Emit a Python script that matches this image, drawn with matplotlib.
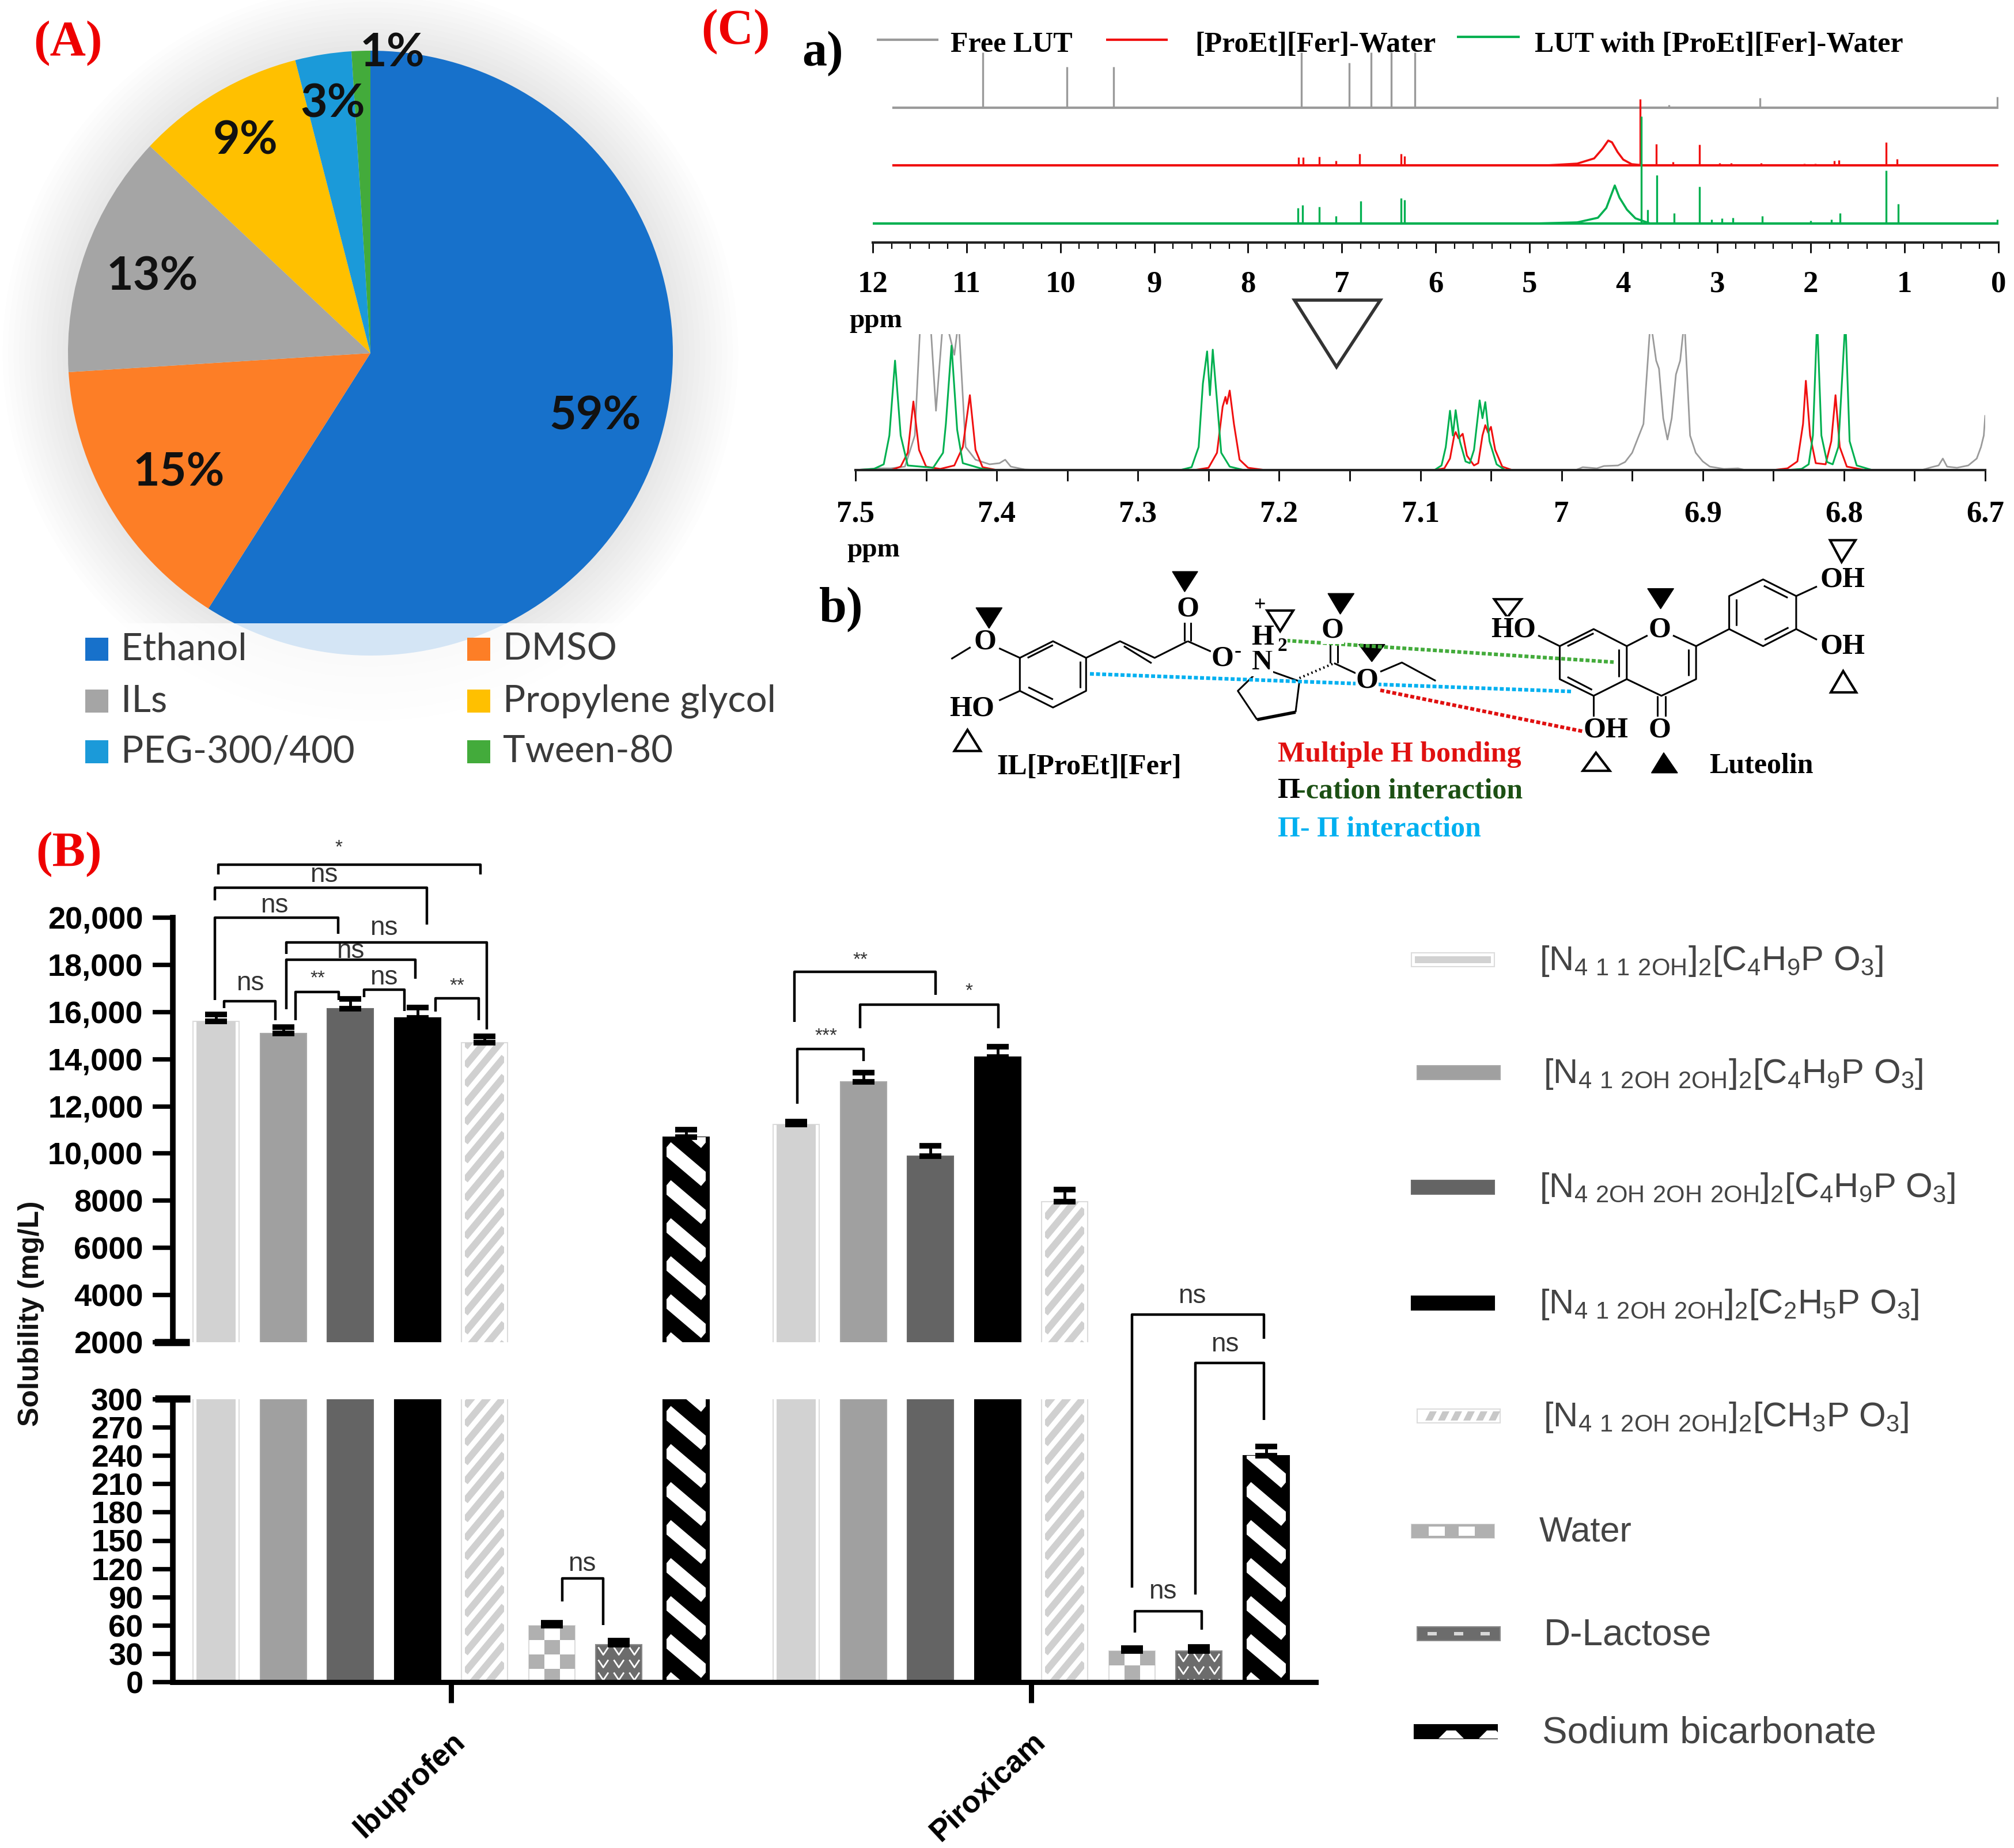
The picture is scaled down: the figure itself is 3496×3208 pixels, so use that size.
import matplotlib
matplotlib.use('Agg')  # no display

import matplotlib.pyplot as plt
import numpy as np
from matplotlib.lines import Line2D
from matplotlib.patches import Circle, Polygon, Rectangle
from matplotlib.transforms import Bbox, IdentityTransform

plt.rcParams['mathtext.default'] = 'regular'

W, H = 3496, 3208
SANS = 'Liberation Sans'
SERIF = 'Liberation Serif'

# --- panel A ---
solvents = ['Ethanol', 'DMSO', 'ILs', 'Propylene glycol', 'PEG-300/400', 'Tween-80']
solvent_pct = [59, 15, 13, 9, 3, 1]
solvent_colors = ['#1771cb', '#fd7e26', '#a5a5a5', '#ffc000', '#1b9ad9', '#43ab3b']

# --- panel B ---
drugs = ['Ibuprofen', 'Piroxicam']
ibuprofen_sol = [15600, 15100, 16150, 15750, 14700, 60, 40, 10700]
ibuprofen_err = [300, 250, 400, 450, 260, 3, 4, 320]
piroxicam_sol = [11230, 13050, 9900, 14100, 7950, 33, 33, 240]
piroxicam_err = [120, 390, 440, 440, 510, 3, 4, 10]
upper_ticks = [2000, 4000, 6000, 8000, 10000, 12000, 14000, 16000, 18000, 20000]
upper_labels = ['2000', '4000', '6000', '8000', '10,000', '12,000', '14,000', '16,000', '18,000', '20,000']
lower_ticks = [0, 30, 60, 90, 120, 150, 180, 210, 240, 270, 300]
bar_names = [
    r'[N$_{4\ 1\ 1\ 2OH}$]$_2$[C$_4$H$_9$P O$_3$]',
    r'[N$_{4\ 1\ 2OH\ 2OH}$]$_2$[C$_4$H$_9$P O$_3$]',
    r'[N$_{4\ 2OH\ 2OH\ 2OH}$]$_2$[C$_4$H$_9$P O$_3$]',
    r'[N$_{4\ 1\ 2OH\ 2OH}$]$_2$[C$_2$H$_5$P O$_3$]',
    r'[N$_{4\ 1\ 2OH\ 2OH}$]$_2$[CH$_3$P O$_3$]',
    'Water', 'D-Lactose', 'Sodium bicarbonate',
]
bar_name_sizes = [43, 43, 43, 43, 43, 44, 46, 47]

# --- panel C, full range spectra (ppm, height) ---
lut_ppm = [10.83, 9.93, 9.43, 7.43, 6.92, 6.69, 6.47, 6.22, 3.51, 2.54, 0.01]
lut_int = [96, 71, 71, 96, 78, 96, 96, 96, 5, 17, 19]
il_ppm = [7.46, 7.41, 7.24, 7.06, 6.81, 6.37, 6.33, 3.82, 3.65, 3.47, 3.19, 2.97, 2.85, 2.53, 2.07, 1.95, 1.75, 1.70, 1.20, 1.08]
il_int = [14, 14, 15, 8, 20, 20, 16, 115, 37, 6, 36, 4, 4, 4, 3, 3, 8, 9, 40, 11]
il_hump_ppm = [4.81, 4.49, 4.31, 4.22, 4.16, 4.12, 4.06, 4.00, 3.91, 3.78]
il_hump_int = [0, 3, 12, 29, 43, 40, 23, 10, 2, 0]
mix_ppm = [7.47, 7.42, 7.24, 7.06, 6.80, 6.37, 6.33, 3.81, 3.74, 3.64, 3.46, 3.19, 3.06, 2.95, 2.83, 2.52, 2.00, 1.78, 1.69, 1.20, 1.07, 0.01]
mix_int = [27, 32, 29, 13, 39, 44, 41, 186, 24, 84, 18, 64, 7, 9, 10, 13, 5, 7, 18, 92, 34, 7]
mix_hump_ppm = [4.94, 4.49, 4.27, 4.18, 4.09, 4.04, 3.96, 3.87, 3.73]
mix_hump_int = [0, 2, 10, 27, 66, 45, 24, 9, 1]

# --- panel C, aromatic region ---
zoom_lut_ppm = [7.50, 7.485, 7.475, 7.465, 7.458, 7.454, 7.450, 7.447, 7.443, 7.438, 7.436, 7.430, 7.427, 7.422, 7.415,
                7.405, 7.398, 7.394, 7.39, 7.38, 7.37, 6.99, 6.985, 6.975, 6.97, 6.96, 6.955, 6.95, 6.942, 6.937, 6.933,
                6.931, 6.928, 6.925, 6.922, 6.919, 6.916, 6.913, 6.909, 6.905, 6.90, 6.895, 6.885, 6.875, 6.87, 6.745,
                6.738, 6.733, 6.730, 6.727, 6.72, 6.712, 6.706, 6.703, 6.701, 6.70]
zoom_lut_int = [0, 3, 3, 6, 60, 260, 240, 260, 103, 260, 260, 200, 260, 40, 18,
                10, 12, 18, 6, 1, 0, 0, 5, 3, 7, 8, 14, 30, 80, 260, 190,
                176, 90, 53, 90, 166, 190, 260, 60, 30, 15, 6, 2, 3, 0, 0,
                5, 8, 20, 6, 4, 8, 20, 40, 60, 94]
zoom_il_ppm = [7.50, 7.475, 7.468, 7.463, 7.459, 7.455, 7.45, 7.44, 7.43, 7.424, 7.419, 7.415, 7.41, 7.40, 7.26, 7.25,
               7.244, 7.240, 7.238, 7.237, 7.235, 7.232, 7.228, 7.222, 7.21, 7.09, 7.083, 7.079, 7.076, 7.075, 7.073,
               7.070, 7.067, 7.062, 7.059, 7.056, 7.054, 7.052, 7.050, 7.047, 7.042, 7.035, 6.85, 6.84, 6.833, 6.829,
               6.827, 6.824, 6.82, 6.813, 6.809, 6.806, 6.803, 6.798, 6.785, 6.70]
zoom_il_int = [0, 0, 6, 30, 119, 35, 6, 2, 8, 40, 130, 35, 5, 0, 0, 4,
               30, 110, 127, 115, 138, 80, 18, 4, 0, 0, 3, 20, 60, 66, 55,
               63, 25, 8, 12, 60, 78, 65, 75, 35, 6, 0, 0, 3, 15, 80,
               155, 60, 12, 10, 50, 130, 40, 6, 0, 0]
zoom_mix_ppm = [7.50, 7.487, 7.480, 7.476, 7.472, 7.468, 7.463, 7.445, 7.438, 7.436, 7.432, 7.428, 7.424, 7.41, 7.40,
                7.27, 7.262, 7.257, 7.254, 7.251, 7.249, 7.247, 7.244, 7.241, 7.235, 7.225, 7.09, 7.085, 7.082, 7.079,
                7.077, 7.075, 7.072, 7.068, 7.065, 7.062, 7.058, 7.056, 7.054, 7.051, 7.046, 7.04, 6.84, 6.83, 6.825,
                6.822, 6.819, 6.816, 6.812, 6.808, 6.804, 6.799, 6.796, 6.791, 6.78, 6.70]
zoom_mix_int = [0, 2, 10, 60, 190, 60, 8, 4, 30, 80, 216, 70, 12, 2, 0,
                0, 5, 40, 150, 206, 130, 209, 120, 30, 6, 0, 0, 8, 40, 103,
                60, 104, 50, 15, 12, 35, 121, 90, 118, 50, 10, 0, 0, 2, 10,
                60, 262, 60, 14, 10, 40, 262, 50, 8, 0, 0]

GRAY, RED, GREEN = '#9a9a9a', '#f01010', '#00b050'


def px_axes(x0, y0, x1, y1):
    return fig.add_axes([x0 / W, 1 - y1 / H, (x1 - x0) / W, (y1 - y0) / H])


fig = plt.figure(figsize=(W / 100, H / 100), dpi=100, facecolor='white')

# overlay in image pixels, for labels, brackets and the structure sketch
ov = fig.add_axes([0, 0, 1, 1], zorder=10)
ov.set_xlim(0, W)
ov.set_ylim(H, 0)
ov.axis('off')


def txt(x, y, s, size, family=SANS, weight='normal', color='black', ha='center', **kw):
    ov.text(x, y, s, fontsize=size, family=family, weight=weight, color=color, ha=ha, va='center', **kw)


def seg(xs, ys, lw=2.0, color='black', **kw):
    ov.plot(xs, ys, color=color, lw=lw, solid_capstyle='butt', **kw)


# ---------- (A) pie ----------
ax = px_axes(118, 88, 1168, 1138)
ax.set_zorder(1)
for i in range(12):
    ax.add_patch(Circle((0, 0), 1 + (i + 1) * 0.018, color='black', alpha=0.008, lw=0, clip_on=False, zorder=0))
ax.pie(solvent_pct, colors=solvent_colors, startangle=90, counterclock=False, radius=1,
       wedgeprops={'linewidth': 0, 'zorder': 1})
ax.set_xlim(-1, 1)
ax.set_ylim(-1, 1)

ov.add_patch(Rectangle((75, 1082), 1325, 275, facecolor='white', alpha=0.82, lw=0))

pct_pos = [(1033, 722), (310, 820), (264, 481), (426, 245), (578, 180), (681, 92)]
for (x, y), p in zip(pct_pos, solvent_pct):
    txt(x, y, f'{p}%', 58, family='Lato', weight='bold', color='#111111')

legend_pos = [(148, 1127), (811, 1127), (148, 1217), (811, 1217), (148, 1305), (811, 1305)]
for (x, y), name, c in zip(legend_pos, solvents, solvent_colors):
    ov.add_patch(Rectangle((x, y - 20), 40, 40, facecolor=c, lw=0))
    txt(x + 62, y, name, 47, family='Lato', color='#3a3a3a', ha='left')

txt(118, 75, '(A)', 62, family=SERIF, weight='bold', color='#ee0000')
txt(120, 1483, '(B)', 62, family=SERIF, weight='bold', color='#ee0000')
txt(1277, 55, '(C)', 62, family=SERIF, weight='bold', color='#ee0000')

# ---------- (B) bars with a broken axis ----------
GROUP_X = [0, 1]
STEP = 0.1157
BAR_W = 0.0795
xlim_b = (-0.4796, 1.4906)
ax_up = px_axes(300, 1593, 2284, 2330)
ax_lo = px_axes(300, 2429, 2284, 2920)
ax_up.set_ylim(2000, 20000)
ax_lo.set_ylim(0, 300)
for a in (ax_up, ax_lo):
    a.set_xlim(*xlim_b)
    a.patch.set_visible(False)
    for s in ('top', 'right'):
        a.spines[s].set_visible(False)
    a.spines['left'].set_linewidth(7)
    a.tick_params(axis='y', length=25, width=5.5, pad=12, labelsize=39)
ax_up.spines['bottom'].set_visible(False)
ax_up.set_xticks([])
ax_up.set_yticks(upper_ticks)
ax_up.set_yticklabels(upper_labels, family=SANS, weight='bold')
ax_lo.set_yticks(lower_ticks)
ax_lo.set_yticklabels([str(t) for t in lower_ticks], family=SANS, weight='bold')
ax_lo.spines['bottom'].set_linewidth(6.5)
ax_lo.set_xticks(GROUP_X)
ax_lo.set_xticklabels(drugs, family=SANS, weight='bold', fontsize=38, rotation=43, ha='right',
                      rotation_mode='anchor')
ax_lo.tick_params(axis='x', length=26, width=6.5, pad=30)

bar_faces = ['white', '#a0a0a0', '#646464', 'black', 'white', 'white', '#6c6c6c', 'black']
bar_edges = ['#dcdcdc', '#a8a8a8', '#6a6a6a', 'black', '#dcdcdc', '#dcdcdc', '#8a8a8a', 'black']


def clip_rect(a, bar, inset=0):
    bb = Bbox.intersection(bar.get_window_extent(), a.bbox)
    if bb is None or bb.height < 1:
        return None
    return Rectangle((bb.x0 + inset, bb.y0), bb.width - 2 * inset, bb.height, transform=IdentityTransform())


def add_clipped(a, artist, rect):
    a.add_artist(artist)
    artist.set_clip_path(rect)


def stripes(a, rect, step, slope, lw_px, color):
    x0, y0 = rect.get_x(), rect.get_y()
    x1, y1 = x0 + rect.get_width(), y0 + rect.get_height()
    span = abs(slope) * (x1 - x0)
    for c in np.arange(y0 - span - step, y1 + span + step, step):
        ln = Line2D([x0, x1], [c, c + slope * (x1 - x0)], color=color, lw=lw_px * 0.72,
                    transform=IdentityTransform(), solid_capstyle='butt', zorder=2)
        add_clipped(a, ln, rect)


def texture(a, bar, kind):
    # fill pattern of one bar, the clip keeps it inside the visible part of the bar
    if kind == 0:
        rect = clip_rect(a, bar, 6)
        if rect is not None:
            add_clipped(a, Rectangle((rect.get_x(), rect.get_y()), rect.get_width(), rect.get_height(),
                                     facecolor='#d2d2d2', lw=0, transform=IdentityTransform(), zorder=2), rect)
    elif kind == 4:
        rect = clip_rect(a, bar, 6)
        if rect is not None:
            stripes(a, rect, 33, 1.2, 12, '#d0d0d0')
    elif kind == 5:
        rect = clip_rect(a, bar)
        if rect is not None:
            x0, top = rect.get_x(), rect.get_y() + rect.get_height()
            for r in range(int(rect.get_height() // 25) + 1):
                for col in range(3):
                    if (r + col) % 2 == 0:
                        add_clipped(a, Rectangle((x0 + col * 27, top - (r + 1) * 25), 27, 25, facecolor='#b0b0b0',
                                                 lw=0, transform=IdentityTransform(), zorder=2), rect)
    elif kind == 6:
        rect = clip_rect(a, bar)
        if rect is not None:
            x0, top = rect.get_x(), rect.get_y() + rect.get_height()
            for r in range(int(rect.get_height() // 22) + 1):
                for col in range(3):
                    cx, cy = x0 + 13 + col * 27, top - 12 - r * 22
                    add_clipped(a, Line2D([cx - 8, cx, cx + 8], [cy + 6, cy - 6, cy + 6], color='white', lw=2,
                                          transform=IdentityTransform(), zorder=2), rect)
    elif kind == 7:
        rect = clip_rect(a, bar, 6)
        if rect is not None:
            stripes(a, rect, 66, -0.85, 24, 'white')


fig.canvas.draw()
for g, vals, errs in zip(GROUP_X, (ibuprofen_sol, piroxicam_sol), (ibuprofen_err, piroxicam_err)):
    xs = g + (np.arange(8) - 3.5) * STEP
    for a in (ax_up, ax_lo):
        bars = a.bar(xs, vals, width=BAR_W, color=bar_faces, edgecolor=bar_edges, linewidth=1.5, zorder=1)
        for k, b in enumerate(bars):
            texture(a, b, k)
        a.errorbar(xs, vals, yerr=[np.zeros(8), errs], fmt='none', ecolor='black', elinewidth=3.5,
                   capsize=14, capthick=7, zorder=5)

# break marks on the y axis
seg([268, 329], [2330, 2330], lw=9)
seg([269, 330], [2428, 2428], lw=9)
txt(54, 2280, 'Solubility (mg/L)', 36, weight='bold', rotation=90, color='#111111')

# significance brackets: x left, x right, top, bottom left, bottom right, label, label x, label y
brackets = [
    (379, 834, 1501, 1518, 1518, '*', 588, 1472),
    (373, 741, 1541, 1563, 1605, 'ns', 562, 1519),
    (373, 587, 1593, 1736, 1621, 'ns', 476, 1572),
    (497, 845, 1636, 1656, 1787, 'ns', 666, 1611),
    (497, 721, 1666, 1752, 1699, 'ns', 608, 1651),
    (389, 478, 1738, 1750, 1771, 'ns', 434, 1707),
    (513, 588, 1722, 1771, 1736, '**', 551, 1699),
    (632, 702, 1718, 1731, 1755, 'ns', 666, 1697),
    (756, 831, 1733, 1756, 1771, '**', 793, 1712),
    (976, 1047, 2740, 2780, 2821, 'ns', 1010, 2715),
    (1379, 1624, 1687, 1774, 1727, '**', 1493, 1667),
    (1493, 1733, 1744, 1785, 1785, '*', 1682, 1721),
    (1384, 1499, 1821, 1916, 1842, '***', 1434, 1799),
    (1965, 2194, 2282, 2756, 2324, 'ns', 2069, 2250),
    (2075, 2194, 2366, 2768, 2465, 'ns', 2126, 2334),
    (1970, 2086, 2797, 2834, 2829, 'ns', 2018, 2763),
]
for xl, xr, top, bl, br, lab, lx, ly in brackets:
    seg([xl, xl, xr, xr], [bl, top, top, br], lw=3.2)
    txt(lx, ly, lab, 33 if lab == 'ns' else 24, color='#333333')

# legend of the bars
swatch_x = [2450, 2460, 2450, 2450, 2460, 2450, 2460, 2455]
swatch_y = [1666, 1862, 2061, 2262, 2458, 2658, 2836, 3006]
label_x = [2672, 2679, 2672, 2672, 2679, 2672, 2680, 2677]
for k, (sx, sy, lx, name) in enumerate(zip(swatch_x, swatch_y, label_x, bar_names)):
    ov.add_patch(Rectangle((sx, sy - 12), 144, 24, facecolor=bar_faces[k], edgecolor=bar_edges[k], lw=1.5))
    if k == 0:
        ov.add_patch(Rectangle((sx + 6, sy - 6), 132, 12, facecolor='#d2d2d2', lw=0))
    if k == 4:
        for j in range(6):
            ov.add_patch(Polygon([(sx + 14 + j * 22, sy + 8), (sx + 26 + j * 22, sy + 8),
                                  (sx + 34 + j * 22, sy - 8), (sx + 22 + j * 22, sy - 8)],
                                 facecolor='#c8c8c8', lw=0))
    if k == 5:
        ov.add_patch(Rectangle((sx, sy - 12), 144, 24, facecolor='#b0b0b0', lw=0))
        for j in (0, 1):
            ov.add_patch(Rectangle((sx + 30 + j * 52, sy - 8), 28, 16, facecolor='white', lw=0))
    if k == 6:
        for j in range(3):
            ov.add_patch(Rectangle((sx + 18 + j * 46, sy - 3), 16, 6, facecolor='#d8d8d8', lw=0))
    if k == 7:
        for j in (0, 1):
            ov.add_patch(Polygon([(sx + 42 + j * 70, sy + 12), (sx + 56 + j * 70, sy - 2), (sx + 72 + j * 70, sy - 2),
                                  (sx + 86 + j * 70, sy + 12)], facecolor='white', lw=0))
    txt(lx, sy + 2, name, bar_name_sizes[k], color='#444444', ha='left')

# ---------- (C) a) spectra ----------
txt(1428, 93, 'a)', 62, family=SERIF, weight='bold')
seg([1522, 1629], [69, 69], lw=3, color=GRAY)
txt(1650, 78, 'Free LUT', 36, family=SERIF, weight='bold', ha='left')
seg([1920, 2027], [69, 69], lw=3, color=RED)
txt(2074, 78, '[ProEt][Fer]-Water', 36, family=SERIF, weight='bold', ha='left')
seg([2529, 2638], [64, 64], lw=3, color=GREEN)
txt(2664, 78, 'LUT with [ProEt][Fer]-Water', 36, family=SERIF, weight='bold', ha='left')

ax_top = px_axes(1515, 90, 3469, 421)
ax_top.set_xlim(12, 0)
ax_top.set_ylim(0, 331)
ax_top.patch.set_visible(False)
OFF_LUT, OFF_IL, OFF_MIX = 234, 134, 33
ax_top.plot([11.78, 0], [OFF_LUT, OFF_LUT], color=GRAY, lw=3)
ax_top.vlines(lut_ppm, OFF_LUT, np.array(lut_int) + OFF_LUT, color=GRAY, lw=2.4)
ax_top.plot([11.78, 0], [OFF_IL, OFF_IL], color=RED, lw=3)
ax_top.plot(il_hump_ppm, np.array(il_hump_int) + OFF_IL, color=RED, lw=2.6)
ax_top.vlines(il_ppm, OFF_IL, np.array(il_int) + OFF_IL, color=RED, lw=2.4)
ax_top.plot([12, 0], [OFF_MIX, OFF_MIX], color=GREEN, lw=3)
ax_top.plot(mix_hump_ppm, np.array(mix_hump_int) + OFF_MIX, color=GREEN, lw=2.6)
ax_top.vlines(mix_ppm, OFF_MIX, np.array(mix_int) + OFF_MIX, color=GREEN, lw=2.4)

ax_zoom = px_axes(1485, 580, 3446, 816)
ax_zoom.set_xlim(7.5, 6.7)
ax_zoom.set_ylim(0, 236)
ax_zoom.patch.set_visible(False)
ax_zoom.plot(zoom_lut_ppm, zoom_lut_int, color=GRAY, lw=2)
ax_zoom.plot(zoom_il_ppm, zoom_il_int, color=RED, lw=2.2)
ax_zoom.plot(zoom_mix_ppm, zoom_mix_int, color=GREEN, lw=2.2)

ax_top.set_xticks(np.arange(0, 13))
ax_top.set_xticks(np.arange(0, 12.01, 0.2), minor=True)
ax_top.set_xticklabels([str(t) for t in range(13)], family=SERIF, weight='bold', fontsize=38)
ax_top.tick_params(axis='x', which='major', length=13, width=2, pad=22)
ax_top.tick_params(axis='x', which='minor', length=8, width=1.6)
zoom_ticks = [7.5, 7.4, 7.3, 7.2, 7.1, 7.0, 6.9, 6.8, 6.7]
ax_zoom.set_xticks(zoom_ticks)
ax_zoom.set_xticks(np.arange(6.75, 7.5, 0.1), minor=True)
ax_zoom.set_xticklabels(['7.5', '7.4', '7.3', '7.2', '7.1', '7', '6.9', '6.8', '6.7'],
                        family=SERIF, weight='bold', fontsize=38)
ax_zoom.tick_params(axis='x', which='major', length=14, width=2, pad=24)
ax_zoom.tick_params(axis='x', which='minor', length=14, width=2)
for a in (ax_top, ax_zoom):
    a.set_yticks([])
    for s in ('top', 'left', 'right'):
        a.spines[s].set_visible(False)
    a.spines['bottom'].set_linewidth(3)
    a.spines['bottom'].set_color('#222222')

txt(1520, 557, 'ppm', 34, family=SERIF, weight='bold')
txt(1516, 955, 'ppm', 34, family=SERIF, weight='bold')
ov.add_patch(Polygon([(2247, 521), (2396, 521), (2320, 637)], closed=True, fill=False, edgecolor='#333333', lw=4))

# ---------- (C) b) structures, sketched in a local frame ----------
txt(1460, 1058, 'b)', 62, family=SERIF, weight='bold')


def bx(x):
    return 1400 + x / 0.748


def by(y):
    return 920 + y / 2.703


def sk(pts, lw=2.2):
    seg([bx(p[0]) for p in pts], [by(p[1]) for p in pts], lw=lw)


def atom(x, y, s, size=36):
    ov.text(bx(x), by(y), s, fontsize=size, family=SERIF, weight='bold', ha='center', va='center',
            bbox=dict(facecolor='white', edgecolor='none', pad=0.5) if s != '-' and s != '+' else None)


bonds = [
    # ferulate
    [(188, 605), (213, 550)], [(250, 555), (277, 600)],
    [(277, 600), (320, 522), (363, 600), (363, 755), (320, 833), (277, 755), (277, 600)],
    [(287, 600), (320, 540)], [(355, 615), (355, 740)], [(288, 738), (320, 795)],
    [(363, 600), (407, 522), (452, 600), (495, 522)], [(412, 545), (448, 625)],
    [(491, 522), (491, 430)], [(499, 522), (499, 430)], [(495, 522), (525, 570)], [(250, 800), (277, 755)],
    # proline ester
    [(580, 685), (560, 755), (585, 890)], [(635, 855), (640, 710), (605, 665)],
    [(680, 535), (680, 625)], [(690, 535), (690, 625)], [(685, 625), (713, 672)],
    [(745, 665), (773, 622), (817, 708)],
    # luteolin
    [(950, 495), (978, 545)],
    [(978, 545), (1022, 465), (1065, 545), (1065, 700), (1022, 778), (978, 700), (978, 545)],
    [(988, 545), (1022, 485)], [(1055, 560), (1055, 690)], [(988, 690), (1020, 750)],
    [(1065, 545), (1092, 495)], [(1125, 495), (1155, 545), (1155, 700), (1110, 778), (1065, 700)],
    [(1145, 560), (1145, 685)], [(1105, 778), (1105, 885)], [(1115, 778), (1115, 885)], [(1022, 778), (1022, 885)],
    [(1155, 545), (1198, 465), (1198, 310), (1242, 232), (1285, 310), (1285, 465), (1242, 545), (1198, 465)],
    [(1207, 450), (1207, 325)], [(1243, 262), (1274, 318)], [(1275, 458), (1244, 515)],
    [(1285, 310), (1312, 265)], [(1285, 465), (1312, 515)],
]
for b in bonds:
    sk(b)
sk([(585, 890), (635, 855)], lw=4)
ov.plot([bx(640), bx(685)], [by(695), by(625)], color='black', lw=3, ls=(0, (0.6, 1.2)))

for x, y, s in [(232, 525, 'O'), (495, 372, 'O'), (540, 605, 'O'), (215, 838, 'HO'), (592, 622, 'N'), (592, 505, 'H'),
                (683, 472, 'O'), (728, 708, 'O'), (918, 470, 'HO'), (1108, 470, 'O'), (1038, 938, 'OH'),
                (1108, 938, 'O'), (1345, 235, 'OH'), (1345, 547, 'OH')]:
    atom(x, y, s)
atom(618, 545, '2', 24)
atom(560, 572, '-', 26)
atom(588, 355, '+', 26)

ov.plot([bx(615), bx(1048)], [by(517), by(620)], color='#43ab3b', lw=4.5, ls=(0, (1.1, 0.6)))
ov.plot([bx(368), bx(995)], [by(675), by(758)], color='#00b0f0', lw=4.5, ls=(0, (1.1, 0.6)))
ov.plot([bx(745), bx(1008)], [by(752), by(945)], color='#e01010', lw=4.5, ls=(0, (1.1, 0.6)))

tri_filled = [
    [(220, 365), (254, 365), (237, 462)], [(475, 195), (508, 195), (491, 290)], [(677, 298), (711, 298), (693, 395)],
    [(717, 537), (751, 537), (734, 618)], [(1092, 275), (1126, 275), (1109, 370)],
    [(1097, 1140), (1131, 1140), (1113, 1045)],
]
tri_open = [
    [(1329, 48), (1362, 48), (1344, 150)], [(893, 325), (928, 325), (910, 410)], [(598, 378), (632, 378), (615, 475)],
    [(192, 1037), (226, 1037), (209, 938)], [(1330, 762), (1363, 762), (1346, 662)],
    [(1008, 1130), (1043, 1130), (1025, 1045)],
]
for t in tri_filled:
    ov.add_patch(Polygon([(bx(a), by(b)) for a, b in t], facecolor='black', edgecolor='black', lw=1))
for t in tri_open:
    ov.add_patch(Polygon([(bx(a), by(b)) for a, b in t], facecolor='white', edgecolor='black', lw=3))

txt(1730, 1332, 'IL[ProEt][Fer]', 36, family=SERIF, weight='bold', ha='left')
txt(2967, 1329, 'Luteolin', 36, family=SERIF, weight='bold', ha='left')
txt(2218, 1310, 'Multiple H bonding', 36, family=SERIF, weight='bold', color='#e01010', ha='left')
txt(2218, 1373, '\u03a0', 36, family=SERIF, weight='bold', ha='left')
txt(2250, 1373, '-cation interaction', 36, family=SERIF, weight='bold', color='#1c5014', ha='left')
txt(2218, 1440, '\u03a0- \u03a0 interaction', 36, family=SERIF, weight='bold', color='#00b0f0', ha='left')

fig.savefig('out.png', dpi=100)
plt.close(fig)
